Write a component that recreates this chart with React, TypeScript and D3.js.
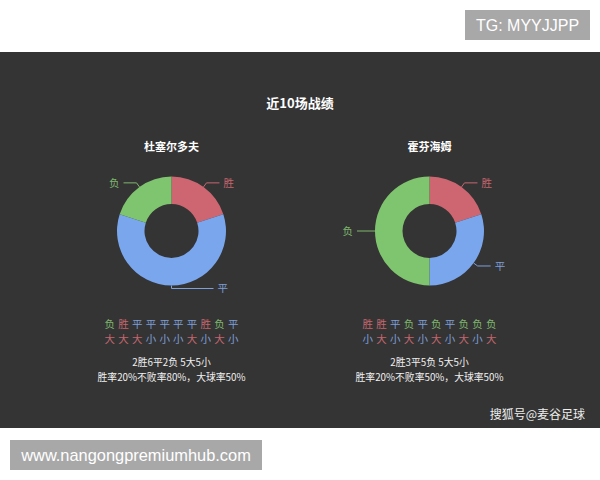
import React from "react";
import * as d3 from "d3";

const mainTitle = "近10场战绩";
const teams = ["杜塞尔多夫", "霍芬海姆"];
const outcomeNames = ["胜", "平", "负"];
const teamCounts = [
  [2, 6, 2],
  [2, 3, 5],
];
const resultSeq = [
  ["负", "胜", "平", "平", "平", "平", "平", "胜", "负", "平"],
  ["胜", "胜", "平", "负", "平", "负", "平", "负", "负", "负"],
];
const goalSeq = [
  ["大", "大", "大", "小", "小", "小", "大", "小", "大", "小"],
  ["小", "大", "小", "大", "小", "大", "小", "大", "小", "大"],
];
const summary1 = ["2胜6平2负 5大5小", "2胜3平5负 5大5小"];
const summary2 = ["胜率20%不败率80%，大球率50%", "胜率20%不败率50%，大球率50%"];

const colorOf: Record<string, string> = {
  胜: "#cd6670",
  平: "#79a6ec",
  负: "#7fc46e",
  大: "#cd6670",
  小: "#79a6ec",
};
const labelColor: Record<string, string> = {
  胜: "#c4666f",
  平: "#7f9fd8",
  负: "#7fb86e",
  大: "#c4666f",
  小: "#7f9fd8",
};

const W = 600;
const H = 480;
const CJK = "'Noto Sans CJK SC', 'Noto Sans', sans-serif";
const LAT = "'Liberation Sans', Arial, sans-serif";

function Donut({ cx, cy, counts }: { cx: number; cy: number; counts: number[] }) {
  const data = outcomeNames.map((n, i) => ({ name: n, value: counts[i] }));
  const pie = d3
    .pie<{ name: string; value: number }>()
    .sort(null)
    .value((d) => d.value);
  const arcs = pie(data);
  const R = 54.5;
  const r = 27;
  const arcGen = d3
    .arc<d3.PieArcDatum<{ name: string; value: number }>>()
    .innerRadius(r)
    .outerRadius(R);
  return (
    <g transform={`translate(${cx},${cy})`}>
      {arcs.map((a) => (
        <path key={a.data.name} d={arcGen(a) || ""} fill={colorOf[a.data.name]} />
      ))}
      {arcs.map((a) => {
        const mid = (a.startAngle + a.endAngle) / 2;
        const sx = Math.sin(mid);
        const sy = -Math.cos(mid);
        const bottom = Math.abs(sx) < 0.1;
        const p0 = [R * sx, R * sy];
        const len1 = bottom ? 3 : 5;
        const p1 = [(R + len1) * sx, (R + len1) * sy];
        const right = sx >= -0.0001;
        const len2 = bottom ? 42 : 13;
        const p2 = [p1[0] + (right ? len2 : -len2), p1[1]];
        const tx = p2[0] + (right ? 4 : -4);
        return (
          <g key={"l" + a.data.name}>
            <polyline
              points={`${p0[0]},${p0[1]} ${p1[0]},${p1[1]} ${p2[0]},${p2[1]}`}
              fill="none"
              stroke={labelColor[a.data.name]}
              strokeWidth={1}
            />
            <text
              x={tx}
              y={p2[1]}
              dy="0.35em"
              textAnchor={right ? "start" : "end"}
              fontSize={10.5}
              fontFamily={CJK}
              fill={labelColor[a.data.name]}
            >
              {a.data.name}
            </text>
          </g>
        );
      })}
    </g>
  );
}

export default function App() {
  const centers = [171.5, 429.5];
  const cy = 231;
  const step = 13.7;
  return (
    <svg
      width={W}
      height={H}
      style={{ position: "absolute", left: 0, top: 0, display: "block" }}
    >
      <rect x={0} y={0} width={W} height={H} fill="#ffffff" />
      <rect x={0} y={52} width={W} height={376} fill="#343434" />
      <rect x={465} y={10} width={125} height={30} fill="#a8a8a8" />
      <text x={527.5} y={25} dy="0.35em" textAnchor="middle" fontSize={16} fontFamily={LAT} fill="#ffffff">
        TG: MYYJJPP
      </text>
      <rect x={10} y={440} width={252} height={30} fill="#a8a8a8" />
      <text x={136} y={455} dy="0.35em" textAnchor="middle" fontSize={16.4} fontFamily={LAT} fill="#ffffff">
        www.nangongpremiumhub.com
      </text>
      <text x={300} y={103} dy="0.35em" textAnchor="middle" fontSize={13} fontWeight="bold" fontFamily={CJK} fill="#ffffff">
        {mainTitle}
      </text>
      {teams.map((t, ti) => {
        const cx = centers[ti];
        const xs = d3
          .scaleLinear()
          .domain([0, resultSeq[ti].length - 1])
          .range([cx - step * 4.5, cx + step * 4.5]);
        return (
          <g key={t}>
            <text x={cx} y={147} dy="0.35em" textAnchor="middle" fontSize={11} fontWeight="bold" fontFamily={CJK} fill="#ffffff">
              {t}
            </text>
            <Donut cx={cx} cy={cy} counts={teamCounts[ti]} />
            {resultSeq[ti].map((c, i) => (
              <text key={"r" + i} x={xs(i)} y={324} dy="0.35em" textAnchor="middle" fontSize={10.5} fontFamily={CJK} fill={labelColor[c]}>
                {c}
              </text>
            ))}
            {goalSeq[ti].map((c, i) => (
              <text key={"g" + i} x={xs(i)} y={339} dy="0.35em" textAnchor="middle" fontSize={10.5} fontFamily={CJK} fill={labelColor[c]}>
                {c}
              </text>
            ))}
            <text x={cx} y={363} dy="0.35em" textAnchor="middle" fontSize={9.8} fontFamily={CJK} fill="#f0f0f0">
              {summary1[ti]}
            </text>
            <text x={cx} y={378} dy="0.35em" textAnchor="middle" fontSize={9.8} fontFamily={CJK} fill="#f0f0f0">
              {summary2[ti]}
            </text>
          </g>
        );
      })}
      <text x={585} y={415} dy="0.35em" textAnchor="end" fontSize={12} fontFamily={CJK} fill="#eeeeee">
        搜狐号@麦谷足球
      </text>
    </svg>
  );
}
